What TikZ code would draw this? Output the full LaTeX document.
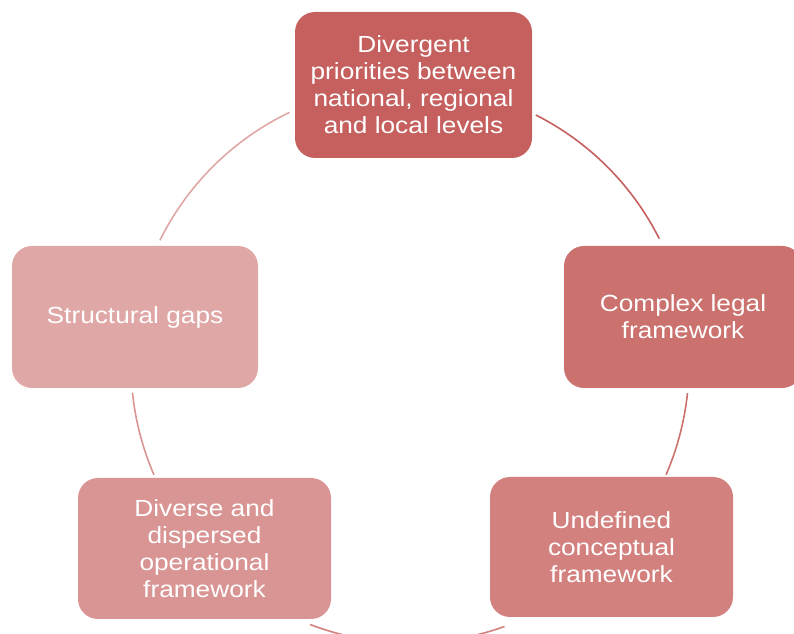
\documentclass[tikz,border=0pt]{standalone}
\usepackage{fontspec}
\setmainfont{Liberation Sans}[FakeStretch=1.125]
\usetikzlibrary{positioning}
\definecolor{cytop}{HTML}{C5605E}
\definecolor{cyright}{HTML}{CB716E}
\definecolor{cybr}{HTML}{D3817F}
\definecolor{cybl}{HTML}{D99593}
\definecolor{cyleft}{HTML}{DFA7A6}
\tikzset{
  cy box/.style={rounded corners=15pt, draw=none, align=center, text=white,
    font=\fontsize{17.5}{20.25}\selectfont, inner sep=0pt},
  cy arc/.style={line width=1.2pt, line cap=butt}
}

\begin{document}
\begin{tikzpicture}[x=0.75pt, y=-0.75pt]
  \useasboundingbox (0,0) rectangle (794,634);
  \coordinate (c) at (410,364);
  \node[cy box, fill=cytop, minimum width=177.75pt, minimum height=109.5pt] (prio) at (413.5,85)
    {Divergent\\priorities between\\national, regional\\and local levels};
  \node[cy box, fill=cyright, minimum width=178.5pt, minimum height=106.5pt] (legal) at (683,317)
    {Complex legal\\framework};
  \node[cy box, fill=cybr, minimum width=182.25pt, minimum height=105pt] (concept) at (611.5,547)
    {Undefined\\conceptual\\framework};
  \node[cy box, fill=cybl, minimum width=189.75pt, minimum height=105.75pt] (oper) at (204.5,548.5)
    {Diverse and\\dispersed\\operational\\framework};
  \node[cy box, fill=cyleft, minimum width=184.5pt, minimum height=106.5pt] (gaps) at (135,317)
    {Structural gaps};
  % arcs of the cycle, each in the colour of the box it leaves
  \draw[cy arc, draw=cytop] ([shift={(c)}]-63.2:279) arc[start angle=-63.2, end angle=-26.7, radius=279];
  \draw[cy arc, draw=cyright] ([shift={(c)}]6:279) arc[start angle=6, end angle=23.4, radius=279];
  \draw[cy arc, draw=cybr] ([shift={(c)}]70.2:279) arc[start angle=70.2, end angle=111, radius=279];
  \draw[cy arc, draw=cybl] ([shift={(c)}]156.6:279) arc[start angle=156.6, end angle=174.1, radius=279];
  \draw[cy arc, draw=cyleft] ([shift={(c)}]206.3:279) arc[start angle=206.3, end angle=244.4, radius=279];
\end{tikzpicture}
\end{document}
